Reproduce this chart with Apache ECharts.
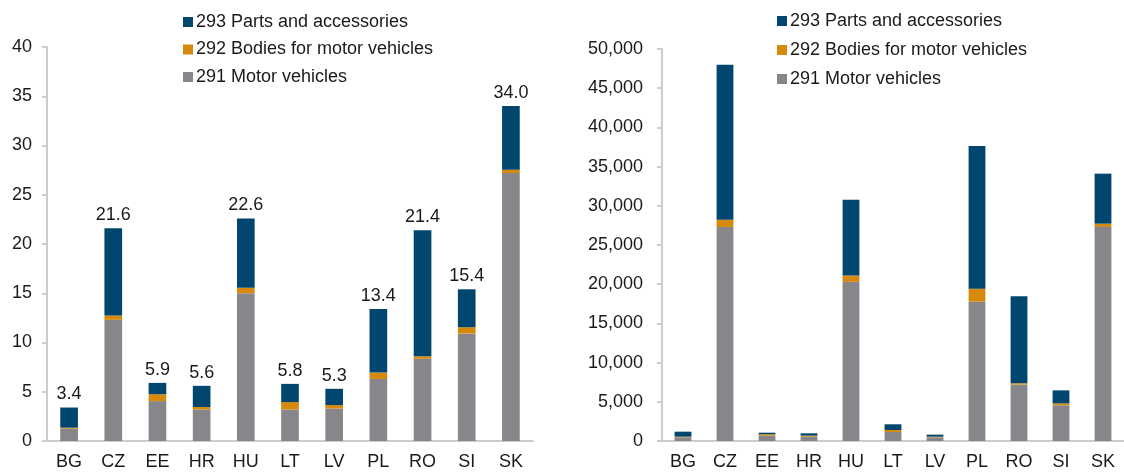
<!DOCTYPE html>
<html>
<head>
<meta charset="utf-8">
<script src="https://cdn.jsdelivr.net/npm/echarts@6/dist/echarts.min.js"></script>
<style>
  html, body { margin: 0; padding: 0; background: #fff; }
  #chart { width: 1124px; height: 472px; }
</style>
</head>
<body>
<div id="chart"></div>
<script>
// countries
var countries = ['BG', 'CZ', 'EE', 'HR', 'HU', 'LT', 'LV', 'PL', 'RO', 'SI', 'SK'];

// left panel (share, %)
var leftMotor  = [1.25, 12.3, 4.05, 3.2, 15.0, 3.2, 3.3, 6.3, 8.35, 10.9, 27.2];
var leftBodies = [0.1, 0.45, 0.7, 0.25, 0.55, 0.75, 0.35, 0.65, 0.25, 0.65, 0.35];
var leftParts  = [2.05, 8.85, 1.15, 2.15, 7.05, 1.85, 1.65, 6.45, 12.8, 3.85, 6.45];
var leftTotals = [3.4, 21.6, 5.9, 5.6, 22.6, 5.8, 5.3, 13.4, 21.4, 15.4, 34.0];

// right panel (absolute)
var rightMotor  = [470, 27300, 680, 550, 20300, 1150, 470, 17770, 7190, 4550, 27300];
var rightBodies = [80, 930, 170, 130, 810, 250, 80, 1660, 170, 250, 420];
var rightParts  = [640, 19770, 210, 300, 9650, 730, 260, 18200, 11090, 1660, 6380];

var names = ['293 Parts and accessories', '292 Bodies for motor vehicles', '291 Motor vehicles'];
var colors = { parts: '#00466f', bodies: '#d68a0c', motor: '#87868b' };

var myChart = echarts.init(document.getElementById('chart'));

var axisGray = '#cccccc';
var txt = '#1a1a1a';
var font = 'Liberation Sans, Arial, sans-serif';

function xAx(idx) {
    return {
        type: 'category', gridIndex: idx, data: countries,
        axisLine: { lineStyle: { color: axisGray, width: 2 } },
        axisTick: { show: false },
        axisLabel: { color: txt, fontSize: 18, fontFamily: font, margin: 12 }
    };
}

function yAx(idx, max, interval, margin, fmt) {
    return {
        type: 'value', gridIndex: idx, min: 0, max: max, interval: interval,
        axisLine: { show: true, lineStyle: { color: axisGray, width: 2 } },
        axisTick: { show: true, length: 5, lineStyle: { color: axisGray, width: 2 } },
        splitLine: { show: false },
        axisLabel: { color: txt, fontSize: 18, fontFamily: font, margin: margin, formatter: fmt }
    };
}

function bar(name, xi, data, color, extra) {
    var s = {
        name: name, type: 'bar', stack: 's' + xi,
        xAxisIndex: xi, yAxisIndex: xi,
        data: data, barWidth: '40%',
        itemStyle: { color: color },
        emphasis: { disabled: true },
        animation: false
    };
    if (extra) Object.assign(s, extra);
    return s;
}

function legend(left, top, gap) {
    return {
        data: names, orient: 'vertical', left: left, top: top,
        itemWidth: 10, itemHeight: 10, itemGap: gap,
        icon: 'rect',
        textStyle: { color: txt, fontSize: 18, fontFamily: font, padding: [0, 0, 0, -2] }
    };
}

option = {
    backgroundColor: '#fff',
    legend: [
        legend(178, 8, 9.5),
        legend(772, 7, 11)
    ],
    grid: [
        { left: 47, top: 47, width: 486, height: 394 },
        { left: 662, top: 49, width: 466, height: 392 }
    ],
    xAxis: [xAx(0), xAx(1)],
    yAxis: [
        yAx(0, 40, 5, 15),
        yAx(1, 50000, 5000, 19, function (v) { return v.toLocaleString('en-US'); })
    ],
    series: [
        bar(names[2], 0, leftMotor, colors.motor),
        bar(names[1], 0, leftBodies, colors.bodies),
        bar(names[0], 0, leftParts, colors.parts, {
            label: {
                show: true, position: 'top', distance: 4,
                color: txt, fontSize: 18, fontFamily: font,
                formatter: function (p) { return leftTotals[p.dataIndex].toFixed(1); }
            }
        }),
        bar(names[2], 1, rightMotor, colors.motor),
        bar(names[1], 1, rightBodies, colors.bodies),
        bar(names[0], 1, rightParts, colors.parts)
    ]
};

myChart.setOption(option);
</script>
</body>
</html>
